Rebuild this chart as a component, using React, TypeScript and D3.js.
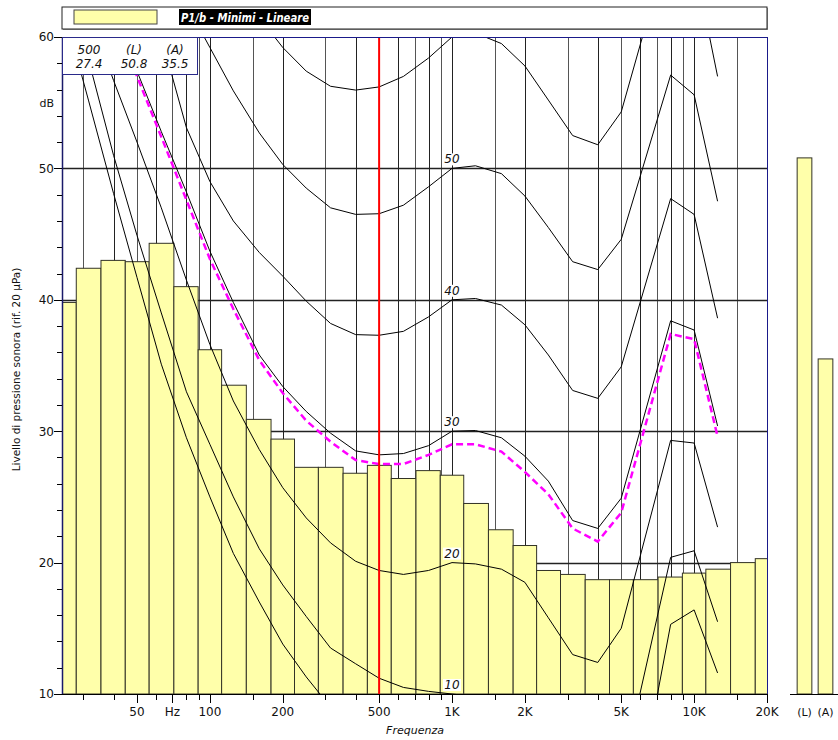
import React, { useEffect, useRef } from 'react';
import * as d3 from 'd3';

// 1/3 octave band spectrum (dB)
const BANDS = [25, 31.5, 40, 50, 63, 80, 100, 125, 160, 200, 250, 315, 400, 500, 630, 800,
  1000, 1250, 1600, 2000, 2500, 3150, 4000, 5000, 6300, 8000, 10000, 12500, 16000, 20000];
const LEVELS = [39.8, 42.4, 43.0, 42.9, 44.3, 41.0, 36.2, 33.5, 30.9, 29.4, 27.25, 27.25, 26.8, 27.4, 26.4, 27.0,
  26.65, 24.5, 22.5, 21.3, 19.4, 19.1, 18.7, 18.7, 18.7, 18.9, 19.2, 19.5, 20.0, 20.3];

// equal loudness contours
const CONTOUR_FREQS = [25, 31.5, 40, 50, 63, 80, 100, 125, 160, 200, 250, 315, 400, 500, 630, 800,
  1000, 1250, 1600, 2000, 2500, 3150, 4000, 5000, 8000, 10000, 12500];
const PHON_0 = [62, 55.2, 48.1, 41.7, 35.1, 29.5, 25.0, 20.7, 17.0, 13.8, 11.3, 9.0, 7.0, 5.5, 4.5, 3.8,
  3.5, 2.5, 1.0, -1.0, -3.0, -5.0, -5.5, -4.6, 15.3, 16.4, 11.6];
const PHON_10 = [65, 58.3, 51.0, 44.9, 39.0, 33.0, 29.0, 25.0, 21.05, 18.3, 15.9, 13.5, 12.3, 11.2, 10.5, 10.2,
  10.0, 9.8, 9.0, 7.5, 5.5, 3.0, 2.3, 3.7, 20.4, 20.9, 15.5];
const PHON_20 = [67, 62, 56.7, 52.0, 47.0, 41.5, 36.6, 32.3, 28.6, 25.7, 23.4, 21.5, 20.1, 19.4, 19.1, 19.4,
  20.0, 19.9, 19.5, 18.5, 15.8, 13.0, 12.4, 15.0, 29.3, 29.1, 22.7];
const PHON_30 = [72, 67.5, 62.5, 57.4, 52.8, 48.2, 43.7, 39.8, 35.8, 33.4, 31.5, 29.85, 28.5, 28.2, 28.3, 28.9,
  30.0, 30.05, 29.5, 28.1, 26.2, 23.2, 22.6, 24.9, 38.4, 37.7, 30.4];
const PHON_40 = [76, 72, 68, 64, 60.0, 53.1, 49.0, 46.0, 43.6, 41.8, 39.9, 38.2, 37.35, 37.3, 37.6, 38.7,
  40.0, 40.1, 39.6, 38.1, 35.8, 33.1, 32.5, 34.9, 47.7, 46.5, 38.6];
const PHON_50 = [83, 79, 75, 71, 67, 62.5, 59.2, 55.9, 52.7, 50.3, 48.5, 47.0, 46.5, 46.55, 47.2, 48.6,
  50.0, 50.2, 49.6, 47.9, 45.5, 42.9, 42.3, 44.6, 57.1, 55.6, 47.5];
const PHON_60 = [92, 88, 84, 80, 76, 72, 68.5, 65, 61.5, 59.2, 57.4, 56.25, 55.96, 56.2, 57.0, 58.4,
  60.0, 60.3, 59.5, 57.8, 55.2, 52.5, 51.8, 54.3, 67.6, 65.8, 57.0];
// contour reached by the spectrum (dashed)
const LOUDNESS = [71.6, 67.0, 62.0, 57.0, 52.4, 47.6, 43.1, 39.3, 35.4, 32.9, 30.8, 29.2, 27.8, 27.5, 27.5, 28.2,
  29.0, 29.0, 28.45, 26.9, 25.2, 22.6, 21.6, 23.8, 37.4, 37.0, 29.6];
const CONTOURS = [PHON_0, PHON_10, PHON_20, PHON_30, PHON_40, PHON_50, PHON_60];
const CONTOUR_LABELS = [10, 20, 30, 40, 50];

const GRID_FREQS = [30, 40, 50, 60, 70, 80, 90, 100, 150, 200, 300, 400, 500, 600, 700, 800, 900,
  1000, 1500, 2000, 3000, 4000, 5000, 6000, 7000, 8000, 9000, 10000, 15000, 20000];
const LABEL_FREQS = [50, 70, 100, 200, 500, 1000, 2000, 5000, 10000, 20000];
const LABEL_TEXTS = ['50', 'Hz', '100', '200', '500', '1K', '2K', '5K', '10K', '20K'];
const Y_LABELS = [10, 20, 30, 40, 50, 60];

const TOTAL_KEYS = ['(L)', '(A)'];
const TOTAL_VALUES = [50.8, 35.5];
const INFO_HEAD = ['500', '(L)', '(A)'];
const INFO_VALUES = ['27.4', '50.8', '35.5'];
const MARK_FREQ = 500;

const FONT = '"DejaVu Sans", Verdana, sans-serif';
const BAR_FILL = '#ffffaa';

export default function App() {
  const svgRef = useRef<SVGSVGElement>(null);

  useEffect(() => {
    const svg = d3.select(svgRef.current);
    svg.selectAll('*').remove();

    const width = 838;
    const height = 740;
    const margin = { top: 37, right: 71, bottom: 46, left: 62 };
    const x0 = margin.left;
    const x1 = width - margin.right;
    const y0 = margin.top;
    const y1 = height - margin.bottom;

    const x = d3.scaleLog().domain([24.5, 20000]).range([x0, x1]);
    const y = d3.scaleLinear().domain([10, 60]).range([y1, y0]);

    const defs = svg.append('defs');
    defs.append('clipPath').attr('id', 'plot').append('rect')
      .attr('x', x0).attr('y', y0).attr('width', x1 - x0).attr('height', y1 - y0);

    svg.append('rect').attr('width', width).attr('height', height).attr('fill', '#fff');

    // legend box
    svg.append('rect').attr('x', x0 + 1).attr('y', 8).attr('width', x1 - x0).attr('height', 22).attr('fill', '#999');
    svg.append('rect').attr('x', x0).attr('y', 7).attr('width', x1 - x0).attr('height', 22)
      .attr('fill', '#fff').attr('stroke', '#222');
    svg.append('rect').attr('x', 74).attr('y', 10).attr('width', 83).attr('height', 14)
      .attr('fill', BAR_FILL).attr('stroke', '#444');
    svg.append('rect').attr('x', 179).attr('y', 9).attr('width', 132).attr('height', 16).attr('fill', '#000');
    svg.append('text').attr('x', 181).attr('y', 22).attr('fill', '#fff')
      .attr('font-family', FONT).attr('font-size', 12).attr('font-weight', 'bold').attr('font-style', 'italic')
      .attr('textLength', 128).attr('lengthAdjust', 'spacingAndGlyphs')
      .text('P1/b - Minimi - Lineare');

    // grid
    const g = svg.append('g');
    g.selectAll('.vgrid').data(GRID_FREQS).enter().append('line')
      .attr('x1', d => Math.round(x(d)) + 0.5).attr('x2', d => Math.round(x(d)) + 0.5)
      .attr('y1', y0).attr('y2', y1)
      .attr('stroke', (d, i) => (i % 2 ? '#222' : '#555')).attr('stroke-width', 1);
    g.selectAll('.hgrid').data([20, 30, 40, 50]).enter().append('line')
      .attr('x1', x0).attr('x2', x1).attr('y1', d => Math.round(y(d)) + 0.5).attr('y2', d => Math.round(y(d)) + 0.5)
      .attr('stroke', '#222').attr('stroke-width', 1.5);

    // bars
    const n = BANDS.length;
    const edges = BANDS.map((f, i) => [
      i === 0 ? f / Math.pow(2, 1 / 6) : Math.sqrt(BANDS[i - 1] * f),
      i === n - 1 ? f * Math.pow(2, 1 / 6) : Math.sqrt(f * BANDS[i + 1]),
    ]);
    g.append('g').attr('clip-path', 'url(#plot)')
      .selectAll('rect').data(LEVELS).enter().append('rect')
      .attr('x', (d, i) => x(edges[i][0]))
      .attr('width', (d, i) => x(edges[i][1]) - x(edges[i][0]))
      .attr('y', d => y(d))
      .attr('height', d => y1 - y(d))
      .attr('fill', BAR_FILL).attr('stroke', '#333326').attr('stroke-width', 1);

    // contours
    const line = d3.line<[number, number]>().x(d => x(d[0])).y(d => y(d[1]));
    const cg = g.append('g').attr('clip-path', 'url(#plot)');
    CONTOURS.forEach(vals => {
      cg.append('path').attr('d', line(CONTOUR_FREQS.map((f, i) => [f, vals[i]] as [number, number])))
        .attr('fill', 'none').attr('stroke', '#000').attr('stroke-width', 1);
    });
    cg.append('path').attr('d', line(CONTOUR_FREQS.map((f, i) => [f, LOUDNESS[i]] as [number, number])))
      .attr('fill', 'none').attr('stroke', '#ff00ff').attr('stroke-width', 2.5).attr('stroke-dasharray', '7,4');

    // contour labels
    CONTOUR_LABELS.forEach(p => {
      g.append('rect').attr('x', x(1000) - 9).attr('y', y(p) - 15).attr('width', 18).attr('height', 12).attr('fill', '#fff');
      g.append('text').attr('x', x(1000)).attr('y', y(p) - 5).attr('text-anchor', 'middle')
        .attr('font-family', FONT).attr('font-size', 12).attr('font-style', 'italic').attr('fill', '#111')
        .text(String(p));
    });

    // 500 Hz marker
    g.append('line').attr('x1', x(MARK_FREQ)).attr('x2', x(MARK_FREQ)).attr('y1', y0).attr('y2', y1)
      .attr('stroke', '#ff0000').attr('stroke-width', 2);

    // frame
    g.append('line').attr('x1', x0).attr('x2', x1).attr('y1', y0 + 0.5).attr('y2', y0 + 0.5).attr('stroke', '#1a1a8a');
    g.append('line').attr('x1', x0 + 0.5).attr('x2', x0 + 0.5).attr('y1', y0).attr('y2', y1).attr('stroke', '#1a1a6a').attr('stroke-width', 1.5);
    g.append('line').attr('x1', x1 + 0.5).attr('x2', x1 + 0.5).attr('y1', y0).attr('y2', y1).attr('stroke', '#1a1a8a');

    // info box
    svg.append('rect').attr('x', x0 + 0.5).attr('y', y0 + 0.5).attr('width', 135).attr('height', 37)
      .attr('fill', '#fff').attr('stroke', '#2a2a8a');
    const infoX = [89, 134, 175];
    INFO_HEAD.forEach((t, i) => {
      svg.append('text').attr('x', infoX[i]).attr('y', 54).attr('text-anchor', 'middle')
        .attr('font-family', FONT).attr('font-size', 12).attr('font-style', 'italic').attr('fill', '#111').text(t);
      svg.append('text').attr('x', infoX[i]).attr('y', 68).attr('text-anchor', 'middle')
        .attr('font-family', FONT).attr('font-size', 12).attr('font-style', 'italic').attr('fill', '#111').text(INFO_VALUES[i]);
    });

    // x axis
    svg.append('line').attr('x1', x0).attr('x2', x1).attr('y1', y1 + 0.5).attr('y2', y1 + 0.5).attr('stroke', '#000');
    svg.selectAll('.xt').data(GRID_FREQS).enter().append('line')
      .attr('x1', d => Math.round(x(d)) + 0.5).attr('x2', d => Math.round(x(d)) + 0.5)
      .attr('y1', y1).attr('y2', d => y1 + (LABEL_FREQS.includes(d) ? 9 : 6)).attr('stroke', '#000');
    svg.selectAll('.xl').data(LABEL_FREQS).enter().append('text')
      .attr('x', d => x(d)).attr('y', 716).attr('text-anchor', 'middle')
      .attr('font-family', FONT).attr('font-size', 12).attr('fill', '#111')
      .text((d, i) => LABEL_TEXTS[i]);
    svg.append('text').attr('x', 415).attr('y', 734).attr('text-anchor', 'middle')
      .attr('font-family', FONT).attr('font-size', 11).attr('font-style', 'italic').attr('fill', '#111').text('Frequenza');

    // y axis
    svg.selectAll('.ym').data(d3.range(10, 61, 2)).enter().append('line')
      .attr('x1', d => (d % 10 === 0 ? x0 - 8 : x0 - 5)).attr('x2', x0)
      .attr('y1', d => Math.round(y(d)) + 0.5).attr('y2', d => Math.round(y(d)) + 0.5).attr('stroke', '#000');
    svg.selectAll('.yl').data(Y_LABELS).enter().append('text')
      .attr('x', 54).attr('y', d => y(d)).attr('dy', '0.36em').attr('text-anchor', 'end')
      .attr('font-family', FONT).attr('font-size', 12).attr('fill', '#111').text(d => String(d));
    svg.append('text').attr('x', 54).attr('y', y(55)).attr('dy', '0.36em').attr('text-anchor', 'end')
      .attr('font-family', FONT).attr('font-size', 11).attr('fill', '#111').text('dB');
    svg.append('text').attr('transform', `translate(20,${(y0 + y1) / 2 + 4}) rotate(-90)`).attr('text-anchor', 'middle')
      .attr('font-family', FONT).attr('font-size', 10.5).attr('fill', '#111')
      .text('Livello di pressione sonora (rif. 20 \u00b5Pa)');

    // totals
    const xb = d3.scaleBand().domain(TOTAL_KEYS).range([794, 836]).paddingInner(0.3).paddingOuter(0.15);
    svg.selectAll('.tot').data(TOTAL_VALUES).enter().append('rect')
      .attr('x', (d, i) => xb(TOTAL_KEYS[i]) as number).attr('width', xb.bandwidth())
      .attr('y', d => y(d)).attr('height', d => y1 - y(d))
      .attr('fill', BAR_FILL).attr('stroke', '#333326');
    svg.append('line').attr('x1', 790).attr('x2', 838).attr('y1', y1 + 0.5).attr('y2', y1 + 0.5).attr('stroke', '#000');
    svg.selectAll('.totl').data(TOTAL_KEYS).enter().append('text')
      .attr('x', d => (xb(d) as number) + xb.bandwidth() / 2).attr('y', 716).attr('text-anchor', 'middle')
      .attr('font-family', FONT).attr('font-size', 11).attr('fill', '#111').text(d => d);
  }, []);

  return (
    <svg ref={svgRef} width={838} height={740} style={{ position: 'absolute', left: 0, top: 0 }} />
  );
}
